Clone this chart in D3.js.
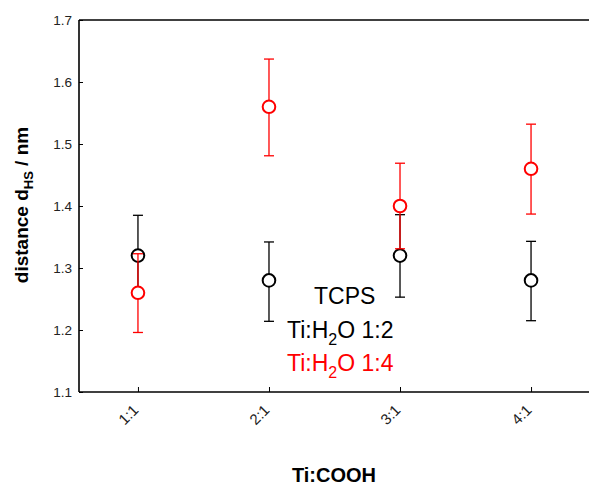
<!DOCTYPE html>
<html>
<head>
<meta charset="utf-8">
<script src="https://cdn.jsdelivr.net/npm/d3@7"></script>
<style>
  html, body { margin: 0; padding: 0; background: #fff; }
  svg { display: block; font-family: "Liberation Sans", Arial, sans-serif; }
</style>
</head>
<body>
<svg id="chart" width="589" height="486"></svg>
<script>
// Ti:COOH ratios on the x axis
const categories = ["1:1", "2:1", "3:1", "4:1"];
const xPositions = [1, 2, 3, 4];

// Ti:H2O 1:2 series (black)
const series12 = [1.32, 1.28, 1.32, 1.28];
const series12ErrUp = [0.065, 0.062, 0.066, 0.063];
const series12ErrDown = [0.065, 0.066, 0.067, 0.065];

// Ti:H2O 1:4 series (red)
const series14 = [1.26, 1.56, 1.40, 1.46];
const series14ErrUp = [0.063, 0.077, 0.069, 0.072];
const series14ErrDown = [0.064, 0.079, 0.069, 0.073];

const yTicks = [1.1, 1.2, 1.3, 1.4, 1.5, 1.6, 1.7];

const svg = d3.select("#chart");
const plot = { left: 79, right: 590, top: 20, bottom: 392 };

const x = d3.scaleLinear().domain([0.55, 4.45]).range([plot.left, plot.right]);
const y = d3.scaleLinear().domain([1.1, 1.7]).range([plot.bottom, plot.top]);

// frame: left, bottom and top lines
const frame = svg.append("g").attr("stroke", "#000").attr("stroke-width", 1.6).attr("fill", "none");
frame.append("line").attr("x1", plot.left).attr("x2", plot.left).attr("y1", plot.top).attr("y2", plot.bottom);
frame.append("line").attr("x1", plot.left).attr("x2", plot.right).attr("y1", plot.bottom).attr("y2", plot.bottom);
frame.append("line").attr("x1", plot.left).attr("x2", plot.right).attr("y1", plot.top).attr("y2", plot.top);

// y axis: inward ticks
const yAxis = d3.axisLeft(y).tickValues(yTicks).tickFormat(d3.format(".1f")).tickSizeInner(-4).tickSizeOuter(0).tickPadding(7);
const gy = svg.append("g").attr("transform", `translate(${plot.left},0)`).call(yAxis);
gy.attr("font-size", 13.5).attr("font-family", "Liberation Sans, Arial, sans-serif");
gy.select(".domain").remove();
gy.selectAll(".tick line").attr("stroke", "#000").attr("stroke-width", 1);
gy.selectAll(".tick text").attr("fill", "#222");

// x axis: inward ticks, rotated labels
const xAxis = d3.axisBottom(x).tickValues(xPositions).tickFormat((d, i) => categories[i]).tickSizeInner(-5).tickSizeOuter(0);
const gx = svg.append("g").attr("transform", `translate(0,${plot.bottom})`).call(xAxis);
gx.attr("font-size", 15).attr("font-family", "Liberation Sans, Arial, sans-serif");
gx.select(".domain").remove();
gx.selectAll(".tick line").attr("stroke", "#000").attr("stroke-width", 1);
gx.selectAll(".tick text")
  .attr("fill", "#222")
  .attr("text-anchor", "end")
  .attr("x", 0).attr("y", 0).attr("dy", 0)
  .attr("transform", "translate(1,19) rotate(-45)");

// axis titles
svg.append("text")
  .attr("x", 334).attr("y", 482)
  .attr("text-anchor", "middle")
  .attr("font-size", 20).attr("font-weight", "bold")
  .text("Ti:COOH");

const yTitle = svg.append("text")
  .attr("transform", "translate(28,205) rotate(-90)")
  .attr("text-anchor", "middle")
  .attr("font-size", 19).attr("font-weight", "bold");
yTitle.append("tspan").text("distance d");
yTitle.append("tspan").attr("font-size", 13).attr("dy", 5).text("HS");
yTitle.append("tspan").attr("dy", -5).text(" / nm");

// error bars and markers
function drawSeries(values, up, down, color) {
  const g = svg.append("g");
  const data = values.map((v, i) => ({ x: xPositions[i], v, up: v + up[i], down: v - down[i] }));
  const bars = g.selectAll("g.bar").data(data).join("g").attr("class", "bar")
    .attr("stroke", color).attr("stroke-width", 1.3);
  bars.append("line")
    .attr("x1", d => x(d.x)).attr("x2", d => x(d.x))
    .attr("y1", d => y(d.up)).attr("y2", d => y(d.down));
  bars.append("line")
    .attr("x1", d => x(d.x) - 5).attr("x2", d => x(d.x) + 5)
    .attr("y1", d => y(d.up)).attr("y2", d => y(d.up));
  bars.append("line")
    .attr("x1", d => x(d.x) - 5).attr("x2", d => x(d.x) + 5)
    .attr("y1", d => y(d.down)).attr("y2", d => y(d.down));
  g.selectAll("circle").data(data).join("circle")
    .attr("cx", d => x(d.x)).attr("cy", d => y(d.v))
    .attr("r", 6.3)
    .attr("fill", "#fff").attr("stroke", color).attr("stroke-width", 2);
}
drawSeries(series12, series12ErrUp, series12ErrDown, "#000");
drawSeries(series14, series14ErrUp, series14ErrDown, "#ff0000");

// legend text
const legend = svg.append("g").attr("font-size", 23);
legend.append("text").attr("x", 314).attr("y", 304).attr("fill", "#000").text("TCPS");
function h2oLabel(yPos, ratio, color) {
  const t = legend.append("text").attr("x", 287).attr("y", yPos).attr("fill", color);
  t.append("tspan").text("Ti:H");
  t.append("tspan").attr("font-size", 16).attr("dy", 7).text("2");
  t.append("tspan").attr("dy", -7).text("O " + ratio);
}
h2oLabel(338, "1:2", "#000");
h2oLabel(371, "1:4", "#ff0000");
</script>
</body>
</html>
